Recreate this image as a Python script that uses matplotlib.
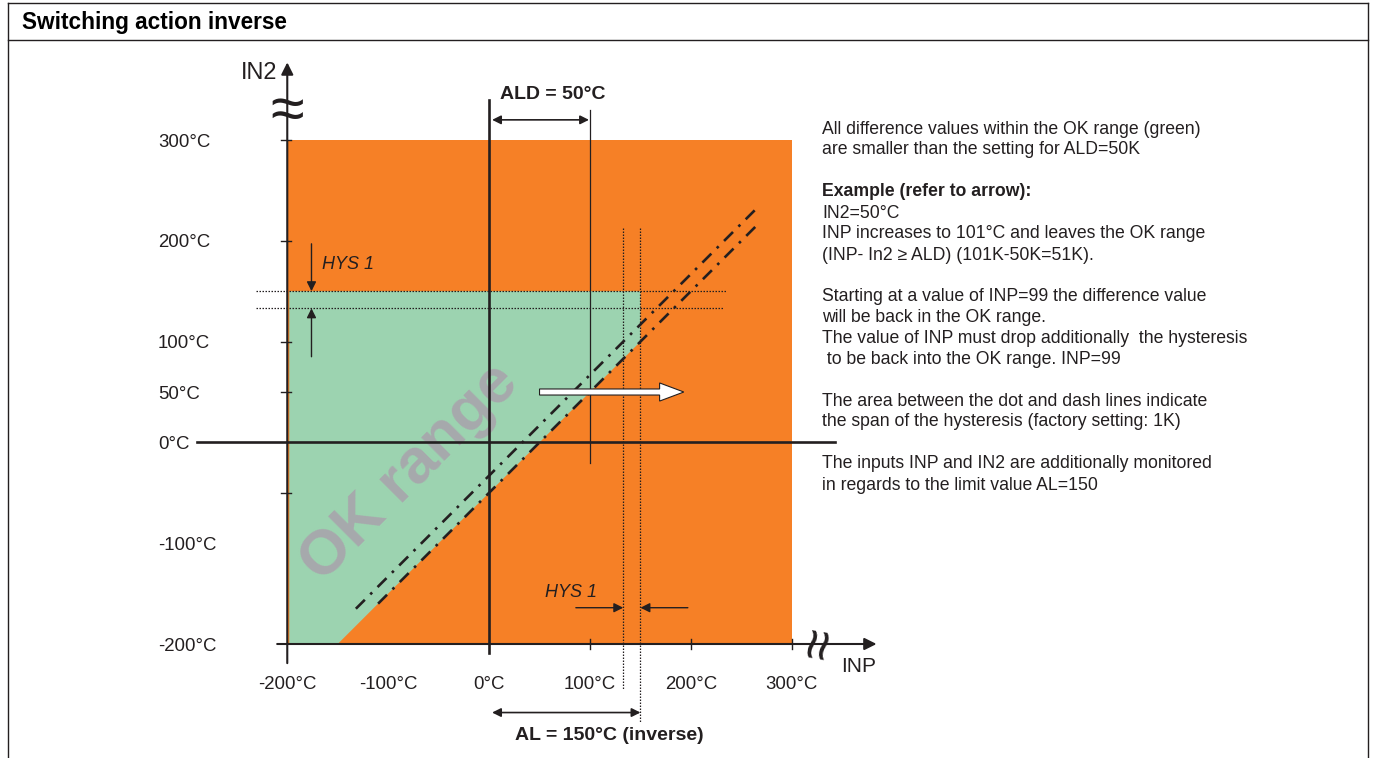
import numpy as np
import matplotlib
matplotlib.use("Agg")
from matplotlib import pyplot as plt
from matplotlib.lines import Line2D

plt.rcParams['font.family'] = ['Liberation Sans', 'DejaVu Sans']

# --- values ---
range_min, range_max = -200, 300      # INP / IN2 span drawn in orange
ALD = 50                              # difference setting
AL = 150                              # limit value (inverse)
HYS = 17                              # hysteresis as drawn (exaggerated)
example_in2 = 50
example_inp_end = 193

x_tick_vals = [-200, -100, 0, 100, 200, 300]
x_tick_labels = ['-200°C', '-100°C', '0°C', '100°C', '200°C', '300°C']
x_tick_marks = [100, 200, 300]
y_label_vals = [300, 200, 100, 50, 0, -100, -200]
y_tick_labels = ['300°C', '200°C', '100°C', '50°C', '0°C', '-100°C', '-200°C']
y_tick_marks = [300, 200, 100, 50, -50]

diag_inp_start = [-110, -132]         # lower (ALD) and upper (ALD-HYS) dash-dot lines
diag_inp_end = [266, 266]

notes = [
    ("All difference values within the OK range (green)", False),
    ("are smaller than the setting for ALD=50K", False),
    ("", False),
    ("Example (refer to arrow):", True),
    ("IN2=50°C", False),
    ("INP increases to 101°C and leaves the OK range", False),
    ("(INP- In2 ≥ ALD) (101K-50K=51K).", False),
    ("", False),
    ("Starting at a value of INP=99 the difference value", False),
    ("will be back in the OK range.", False),
    ("The value of INP must drop additionally  the hysteresis", False),
    (" to be back into the OK range. INP=99", False),
    ("", False),
    ("The area between the dot and dash lines indicate", False),
    ("the span of the hysteresis (factory setting: 1K)", False),
    ("", False),
    ("The inputs INP and IN2 are additionally monitored", False),
    ("in regards to the limit value AL=150", False),
]

orange = '#F68026'
green = '#9CD3B0'
dark = '#231F20'
grey = '#A7A9AC'

W, H = 1375, 758
fig = plt.figure(figsize=(W / 100, H / 100), dpi=100)
ax = fig.add_axes([0, 0, 1, 1])
ax.set_xlim(-484.7, 878.0)
ax.set_ylim(-313.1, 438.9)
ax.axis('off')

# frame + header
def fx(px):
    return px / W

def fy(py):
    return 1 - py / H

for xs, ys in [([8, 1368], [3, 3]), ([8, 1368], [40, 40]), ([8, 8], [3, 760]), ([1368, 1368], [3, 760])]:
    fig.add_artist(Line2D([fx(v) for v in xs], [fy(v) for v in ys], color=dark, lw=1.0))
fig.text(fx(22), fy(23), "Switching action inverse", fontsize=16.3, fontweight='bold',
         color='black', ha='left', va='center')

# orange square and green OK range
ax.fill([range_min, range_max, range_max, range_min], [range_min, range_min, range_max, range_max],
        color=orange, lw=0, zorder=1)
ok_x = [range_min + 2, range_min + ALD, AL, AL, range_min + 2]
ok_y = [range_min, range_min, AL - ALD, AL, AL]
ax.fill(ok_x, ok_y, color=green, lw=0, zorder=2)

ax.text(-79, -30, "OK range", fontsize=45, fontweight='bold', color=grey, rotation=45,
        ha='center', va='center', rotation_mode='anchor', zorder=3)

# dash-dot boundary lines
for off, x0, x1 in zip([ALD, ALD - HYS], diag_inp_start, diag_inp_end):
    xs = np.array([x0, x1])
    ax.plot(xs, xs - off, color=dark, lw=1.9, linestyle=(0, (4.8, 2.9, 1.0, 2.9)), zorder=4)

# hysteresis dotted guides
dot = (0, (1.2, 1.2))
ax.plot([AL - HYS, AL - HYS], [213, -246], color=dark, lw=0.9, linestyle=dot, zorder=4)
ax.plot([AL, AL], [213, -278], color=dark, lw=0.9, linestyle=dot, zorder=4)
ax.plot([-231, 235], [AL, AL], color=dark, lw=0.9, linestyle=dot, zorder=4)
ax.plot([-231, 233], [AL - HYS, AL - HYS], color=dark, lw=0.9, linestyle=dot, zorder=4)

# axes lines
ax.annotate('', xy=(range_min, 377), xytext=(range_min, -219),
            arrowprops=dict(arrowstyle='-|>', color=dark, lw=1.5, mutation_scale=18,
                            shrinkA=0, shrinkB=0), zorder=5)
ax.annotate('', xy=(384, range_min), xytext=(-210, range_min),
            arrowprops=dict(arrowstyle='-|>', color=dark, lw=1.5, mutation_scale=18,
                            shrinkA=0, shrinkB=0), zorder=5)
ax.plot([-289, 343], [0, 0], color=dark, lw=1.9, zorder=5)
ax.plot([0, 0], [340, -209], color=dark, lw=1.9, zorder=5)
ax.plot([ALD * 2, ALD * 2], [330, -20], color=dark, lw=0.9, zorder=5)

# axis breaks
ax.text(range_min, 326, "≈", fontsize=44, color=dark, ha='center', va='center', zorder=6)
ax.text(330, range_min, "≈", fontsize=40, color=dark, ha='center', va='center',
        rotation=80, zorder=6)

# tick marks
for v in y_tick_marks:
    ax.plot([range_min - 6, range_min + 4], [v, v], color=dark, lw=1.0, zorder=5)
for v in x_tick_marks:
    ax.plot([v, v], [range_min - 5, range_min + 5], color=dark, lw=1.0, zorder=5)

# tick labels
for v, lab in zip(y_label_vals, y_tick_labels):
    ax.text(-328, v - 2, lab, fontsize=13.4, color=dark, ha='left', va='center')
for v, lab in zip(x_tick_vals, x_tick_labels):
    ax.text(v, -240, lab, fontsize=13.4, color=dark, ha='center', va='center')

ax.text(-228, 366, "IN2", fontsize=17, color=dark, ha='center', va='center')
ax.text(366, -222, "INP", fontsize=15, color=dark, ha='center', va='center')

# ALD dimension
ax.annotate('', xy=(99, 320), xytext=(3, 320),
            arrowprops=dict(arrowstyle='<|-|>', color=dark, lw=1.2, mutation_scale=13,
                            shrinkA=0, shrinkB=0))
ax.text(63, 345, "ALD = 50°C", fontsize=14, fontweight='bold', color=dark, ha='center', va='center')

# AL dimension
ax.annotate('', xy=(AL, -268), xytext=(3, -268),
            arrowprops=dict(arrowstyle='<|-|>', color=dark, lw=1.2, mutation_scale=13,
                            shrinkA=0, shrinkB=0))
ax.text(119, -291, "AL = 150°C (inverse)", fontsize=14, fontweight='bold', color=dark,
        ha='center', va='center')

# HYS markers
arrow_kw = dict(arrowstyle='-|>', color=dark, lw=1.0, mutation_scale=14, shrinkA=0, shrinkB=0)
ax.annotate('', xy=(-176, AL), xytext=(-176, 197), arrowprops=arrow_kw, zorder=5)
ax.annotate('', xy=(-176, AL - HYS), xytext=(-176, 85), arrowprops=arrow_kw, zorder=5)
ax.text(-166, 176, "HYS 1", fontsize=13, fontstyle='italic', color=dark, ha='left', va='center')
ax.annotate('', xy=(AL - HYS, -164), xytext=(86, -164), arrowprops=arrow_kw, zorder=5)
ax.annotate('', xy=(AL, -164), xytext=(197, -164), arrowprops=arrow_kw, zorder=5)
ax.text(55, -149, "HYS 1", fontsize=13, fontstyle='italic', color=dark, ha='left', va='center')

# example arrow
ax.arrow(example_in2, example_in2, example_inp_end - example_in2, 0, width=6, head_width=18,
         head_length=24, length_includes_head=True, fc='white', ec=dark, lw=0.8, zorder=6)

# explanatory notes
y0 = 129
for i, (line, bold) in enumerate(notes):
    if line:
        fig.text(fx(822), fy(y0 + 21 * i - (1 if i > 10 else 0)), line, fontsize=12.7,
                 fontweight='bold' if bold else 'normal', color=dark, ha='left', va='center')

fig.savefig('out.png', dpi=100)
